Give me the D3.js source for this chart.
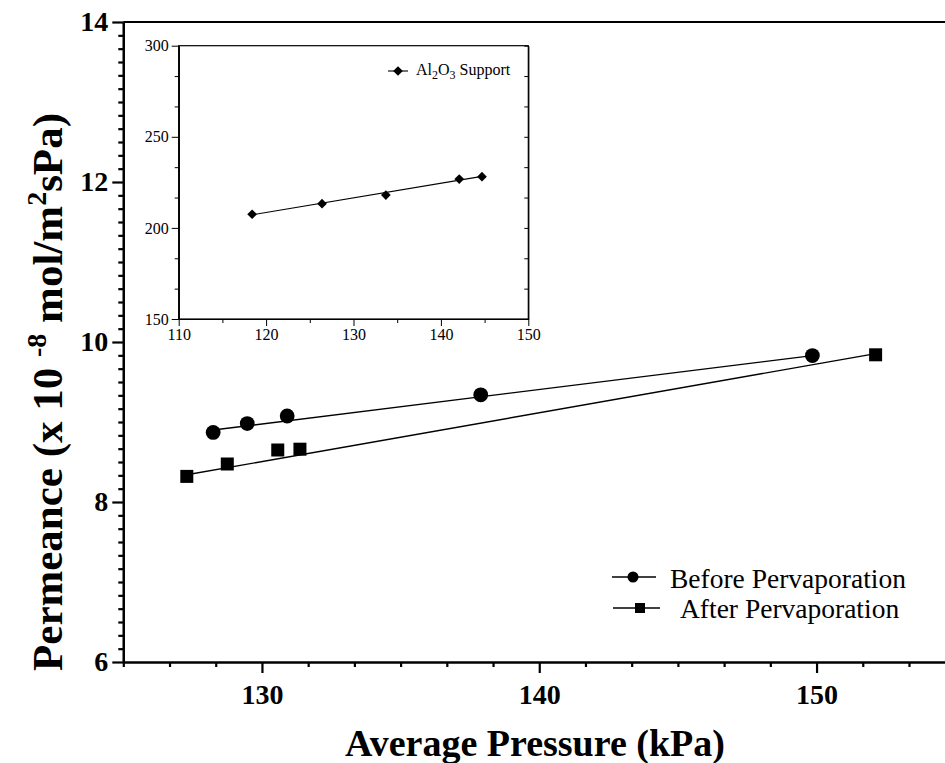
<!DOCTYPE html>
<meta charset="utf-8">
<style>

body {
  margin: 0;
  background: #fff;
}

text {
  font-family: "Liberation Serif", "Times New Roman", serif;
  fill: #000;
}

.main-axis text {
  font-weight: bold;
  font-size: 28px;
}

.inset-axis text {
  font-size: 16px;
}

</style>
<svg width="945" height="763"></svg>
<script src="https://d3js.org/d3.v7.min.js"></script>
<script>

// main plot: permeance vs average pressure
var beforeP = [128.24, 129.47, 130.91, 137.89, 149.85],
    beforeK = [8.87, 8.98, 9.075, 9.34, 9.83];
var afterP = [127.29, 128.75, 130.57, 131.37, 152.13],
    afterK = [8.32, 8.475, 8.65, 8.66, 9.84];

// straight lines through each set, end points
var beforeLine = [[128.24, 8.90], [149.85, 9.83]],
    afterLine = [[127.29, 8.34], [152.13, 9.855]];

// inset: Al2O3 support
var supportP = [118.4, 126.4, 133.7, 142.1, 144.7],
    supportK = [207.5, 213.3, 218.0, 226.8, 228.1];
var supportLine = [[118.4, 207.2], [144.7, 228.3]];

var xTicks = [130, 140, 150],
    yTicks = [6, 8, 10, 12, 14];
var insetXTicks = [110, 120, 130, 140, 150],
    insetYTicks = [150, 200, 250, 300];

var svg = d3.select("svg");

var x = d3.scaleLinear().domain([125, 155]).range([123.3, 955.2]),
    y = d3.scaleLinear().domain([6, 14]).range([662, 22]);

var xMinor = d3.range(0, 19).map(i => 125 + i * 10 / 6).filter(v => Math.abs(v - Math.round(v / 10) * 10) > 0.01),
    yMinor = d3.range(0, 49).map(i => 6 + i / 6).filter(v => Math.abs(v - Math.round(v / 2) * 2) > 0.01);

// top frame line
svg.append("line")
    .attr("x1", x(125)).attr("x2", 945)
    .attr("y1", y(14)).attr("y2", y(14))
    .attr("stroke", "#000").attr("stroke-width", 2.2);

var gx = svg.append("g")
    .attr("class", "main-axis")
    .attr("transform", "translate(0," + y(6) + ")");
gx.append("g")
    .call(d3.axisBottom(x).tickValues(xMinor).tickSize(5).tickFormat("").tickSizeOuter(0));
gx.append("g")
    .call(d3.axisBottom(x).tickValues(xTicks).tickSize(11).tickPadding(11).tickSizeOuter(0));

var gy = svg.append("g")
    .attr("class", "main-axis")
    .attr("transform", "translate(" + x(125) + ",0)");
gy.append("g")
    .call(d3.axisLeft(y).tickValues(yMinor).tickSize(5).tickFormat("").tickSizeOuter(0));
gy.append("g")
    .call(d3.axisLeft(y).tickValues(yTicks).tickSize(11).tickPadding(4).tickSizeOuter(0));

svg.selectAll(".main-axis path, .main-axis line")
    .attr("stroke", "#000")
    .attr("stroke-width", 2.2);

// data lines
var line = d3.line().x(d => x(d[0])).y(d => y(d[1]));
svg.append("path")
    .attr("d", line(beforeLine))
    .attr("fill", "none").attr("stroke", "#000").attr("stroke-width", 1.4);
svg.append("path")
    .attr("d", line(afterLine))
    .attr("fill", "none").attr("stroke", "#000").attr("stroke-width", 1.4);

svg.selectAll(".before")
  .data(d3.zip(beforeP, beforeK))
  .join("circle")
    .attr("class", "before")
    .attr("cx", d => x(d[0]))
    .attr("cy", d => y(d[1]))
    .attr("r", 7.4);

svg.selectAll(".after")
  .data(d3.zip(afterP, afterK))
  .join("rect")
    .attr("class", "after")
    .attr("x", d => x(d[0]) - 6.5)
    .attr("y", d => y(d[1]) - 6.5)
    .attr("width", 13)
    .attr("height", 13);

// legend
var legend = svg.append("g").attr("transform", "translate(612,0)");
legend.append("line").attr("x1", 0).attr("x2", 44).attr("y1", 577).attr("y2", 577)
    .attr("stroke", "#000").attr("stroke-width", 1.4);
legend.append("circle").attr("cx", 21).attr("cy", 577).attr("r", 5.5);
legend.append("text").attr("x", 58).attr("y", 588).style("font-size", "27.5px")
    .text("Before Pervaporation");
legend.append("line").attr("x1", 1).attr("x2", 48).attr("y1", 608).attr("y2", 608)
    .attr("stroke", "#000").attr("stroke-width", 1.4);
legend.append("rect").attr("x", 23).attr("y", 603).attr("width", 10).attr("height", 10);
legend.append("text").attr("x", 68).attr("y", 618).style("font-size", "27.5px")
    .text("After Pervaporation");

// axis titles
svg.append("text")
    .attr("x", 535).attr("y", 756)
    .attr("text-anchor", "middle")
    .style("font-weight", "bold").style("font-size", "38px")
    .text("Average Pressure (kPa)");

var yt = svg.append("text")
    .attr("transform", "translate(62,392) rotate(-90)")
    .attr("text-anchor", "middle")
    .style("font-weight", "bold").style("font-size", "43px");
yt.append("tspan").text("Permeance (x 10 ");
yt.append("tspan").attr("dy", -16).style("font-size", "28px").text("-8");
yt.append("tspan").attr("dy", 16).text(" mol/m");
yt.append("tspan").attr("dy", -16).style("font-size", "28px").text("2");
yt.append("tspan").attr("dy", 16).text("sPa)");

// ---- inset ----
var ix = d3.scaleLinear().domain([110, 150]).range([178.7, 528.3]),
    iy = d3.scaleLinear().domain([150, 300]).range([319, 45.7]);

var inset = svg.append("g").attr("class", "inset-axis");
inset.append("rect")
    .attr("x", ix(110)).attr("y", iy(300))
    .attr("width", ix(150) - ix(110)).attr("height", iy(150) - iy(300))
    .attr("fill", "#fff").attr("stroke", "#000").attr("stroke-width", 1.2);

var ixMinor = [115, 125, 135, 145],
    iyMinor = d3.range(0, 10).map(i => 150 + i * 50 / 3).filter(v => Math.abs(v - Math.round(v / 50) * 50) > 0.01);

inset.append("g")
    .attr("transform", "translate(0," + iy(150) + ")")
    .call(d3.axisBottom(ix).tickValues(ixMinor).tickSize(4).tickFormat("").tickSizeOuter(0));
inset.append("g")
    .attr("transform", "translate(0," + iy(150) + ")")
    .call(d3.axisBottom(ix).tickValues(insetXTicks).tickSize(7).tickPadding(3).tickSizeOuter(0));
inset.append("g")
    .attr("transform", "translate(" + ix(110) + ",0)")
    .call(d3.axisLeft(iy).tickValues(iyMinor).tickSize(4).tickFormat("").tickSizeOuter(0));
inset.append("g")
    .attr("transform", "translate(" + ix(110) + ",0)")
    .call(d3.axisLeft(iy).tickValues(insetYTicks).tickSize(7).tickPadding(3).tickSizeOuter(0));
inset.append("g")
    .attr("transform", "translate(" + ix(150) + ",0)")
    .call(d3.axisLeft(iy).tickValues(iyMinor.concat(insetYTicks)).tickSize(4).tickFormat("").tickSizeOuter(0));

inset.selectAll("path.domain").attr("stroke", "#000").attr("stroke-width", 1.2);
inset.selectAll(".tick line").attr("stroke", "#000").attr("stroke-width", 1);

var iline = d3.line().x(d => ix(d[0])).y(d => iy(d[1]));
inset.append("path")
    .attr("d", iline(supportLine))
    .attr("fill", "none").attr("stroke", "#000").attr("stroke-width", 1.1);

var diamond = d3.symbol().type(d3.symbolDiamond2).size(60);
inset.selectAll(".support")
  .data(d3.zip(supportP, supportK))
  .join("path")
    .attr("class", "support")
    .attr("transform", d => "translate(" + ix(d[0]) + "," + iy(d[1]) + ")")
    .attr("d", diamond);

inset.append("line").attr("x1", 388).attr("x2", 408).attr("y1", 71).attr("y2", 71)
    .attr("stroke", "#000").attr("stroke-width", 1.1);
inset.append("path").attr("transform", "translate(398,71)").attr("d", diamond);
var lt = inset.append("text").attr("x", 416).attr("y", 75).style("font-size", "16px");
lt.append("tspan").text("Al");
lt.append("tspan").attr("dy", 4).style("font-size", "12px").text("2");
lt.append("tspan").attr("dy", -4).text("O");
lt.append("tspan").attr("dy", 4).style("font-size", "12px").text("3");
lt.append("tspan").attr("dy", -4).text(" Support");

</script>
